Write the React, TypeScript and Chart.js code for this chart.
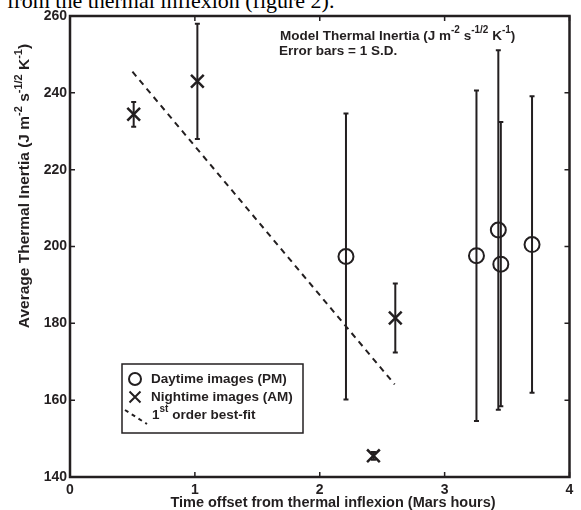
import React, { useEffect, useRef } from "react";
import { Chart, registerables } from "chart.js";
Chart.register(...registerables);

// ---- data ----
const xTicks = [0, 1, 2, 3, 4];
const yTicks = [140, 160, 180, 200, 220, 240, 260];

const dayX = [2.21, 3.255, 3.43, 3.45, 3.7];
const dayY = [197.4, 197.6, 204.3, 195.4, 200.5];
const dayErr = [37.2, 43.0, 46.8, 37.0, 38.6];

const nightX = [0.51, 1.02, 2.43, 2.605];
const nightY = [234.4, 243.0, 145.5, 181.4];
const nightErr = [3.2, 15.0, 1.0, 9.0];

const fitX = [0.5, 2.6];
const fitY = [245.5, 164.1];

const INK = "#231f20";
const FONT = '"Liberation Sans", Arial, Helvetica, sans-serif';

type Seg = [string, boolean?];

function segFont(size: number, sup?: boolean) {
  return `bold ${sup ? Math.round(size * 0.72) : size}px ${FONT}`;
}

function drawRich(
  ctx: CanvasRenderingContext2D,
  segs: Seg[],
  x: number,
  y: number,
  size: number,
  align: "left" | "center"
) {
  let total = 0;
  const widths = segs.map(([t, s]) => {
    ctx.font = segFont(size, s);
    const w = ctx.measureText(t).width;
    total += w;
    return w;
  });
  let cx = align === "center" ? x - total / 2 : x;
  ctx.textAlign = "left";
  ctx.textBaseline = "middle";
  segs.forEach(([t, s], i) => {
    ctx.font = segFont(size, s);
    ctx.fillText(t, cx, s ? y - size * 0.4 : y);
    cx += widths[i];
  });
}

const overlayPlugin = {
  id: "overlay",
  beforeDatasetsDraw(chart: any) {
    const ctx: CanvasRenderingContext2D = chart.ctx;
    const xs = chart.scales.x;
    const ys = chart.scales.y;
    ctx.save();
    ctx.strokeStyle = INK;
    ctx.lineWidth = 2;
    const bars = (X: number[], Y: number[], E: number[]) => {
      X.forEach((xv, i) => {
        const px = xs.getPixelForValue(xv);
        const top = ys.getPixelForValue(Y[i] + E[i]);
        const bot = ys.getPixelForValue(Y[i] - E[i]);
        ctx.beginPath();
        ctx.moveTo(px, top);
        ctx.lineTo(px, bot);
        ctx.moveTo(px - 2.5, top);
        ctx.lineTo(px + 2.5, top);
        ctx.moveTo(px - 2.5, bot);
        ctx.lineTo(px + 2.5, bot);
        ctx.stroke();
      });
    };
    bars(dayX, dayY, dayErr);
    bars(nightX, nightY, nightErr);
    ctx.restore();
  },
  afterDraw(chart: any) {
    const ctx: CanvasRenderingContext2D = chart.ctx;
    const a = chart.chartArea;
    const xs = chart.scales.x;
    const ys = chart.scales.y;
    ctx.save();
    ctx.strokeStyle = INK;
    ctx.fillStyle = INK;
    // inward ticks
    ctx.lineWidth = 1.5;
    ctx.beginPath();
    xTicks.forEach((v) => {
      const px = xs.getPixelForValue(v);
      ctx.moveTo(px, a.bottom);
      ctx.lineTo(px, a.bottom - 5);
      ctx.moveTo(px, a.top);
      ctx.lineTo(px, a.top + 5);
    });
    yTicks.forEach((v) => {
      const py = ys.getPixelForValue(v);
      ctx.moveTo(a.left, py);
      ctx.lineTo(a.left + 5, py);
      ctx.moveTo(a.right, py);
      ctx.lineTo(a.right - 5, py);
    });
    ctx.stroke();
    // box
    ctx.lineWidth = 2.5;
    ctx.strokeRect(a.left, a.top, a.right - a.left, a.bottom - a.top);

    // annotation
    drawRich(
      ctx,
      [["Model Thermal Inertia (J m"], ["-2", true], [" s"], ["-1/2", true], [" K"], ["-1", true], [")"]],
      280,
      36,
      13.5,
      "left"
    );
    drawRich(ctx, [["Error bars = 1 S.D."]], 279, 51, 13.5, "left");

    // legend
    ctx.lineWidth = 1.5;
    ctx.strokeRect(122, 364, 181, 69);
    ctx.lineWidth = 2;
    ctx.beginPath();
    ctx.arc(135, 379, 6, 0, Math.PI * 2);
    ctx.stroke();
    ctx.beginPath();
    ctx.moveTo(129.5, 391.5);
    ctx.lineTo(140.5, 402.5);
    ctx.moveTo(140.5, 391.5);
    ctx.lineTo(129.5, 402.5);
    ctx.stroke();
    ctx.setLineDash([4, 4]);
    ctx.beginPath();
    ctx.moveTo(125, 410);
    ctx.lineTo(147, 424);
    ctx.stroke();
    ctx.setLineDash([]);
    drawRich(ctx, [["Daytime images (PM)"]], 151, 379, 13.5, "left");
    drawRich(ctx, [["Nightime images (AM)"]], 151, 397, 13.5, "left");
    drawRich(ctx, [["1"], ["st", true], [" order best-fit"]], 152, 415, 13.5, "left");

    // axis titles
    drawRich(ctx, [["Time offset from thermal inflexion (Mars hours)"]], 333, 503, 14.5, "center");
    ctx.save();
    ctx.translate(25, 186);
    ctx.rotate(-Math.PI / 2);
    drawRich(
      ctx,
      [["Average Thermal Inertia (J m"], ["-2", true], [" s"], ["-1/2", true], [" K"], ["-1", true], [")"]],
      0,
      0,
      15.5,
      "center"
    );
    ctx.restore();
    ctx.restore();
  },
};

export default function App() {
  const ref = useRef<HTMLCanvasElement | null>(null);
  useEffect(() => {
    if (!ref.current) return;
    const chart = new Chart(ref.current, {
      type: "scatter",
      data: {
        datasets: [
          {
            label: "Daytime images (PM)",
            data: dayX.map((x, i) => ({ x, y: dayY[i] })),
            pointStyle: "circle",
            pointRadius: 7.5,
            pointBorderWidth: 2,
            borderColor: INK,
            backgroundColor: "rgba(0,0,0,0)",
          },
          {
            label: "Nightime images (AM)",
            data: nightX.map((x, i) => ({ x, y: nightY[i] })),
            pointStyle: "crossRot",
            pointRadius: 9,
            pointBorderWidth: 2.5,
            borderColor: INK,
            backgroundColor: INK,
          },
          {
            label: "1st order best-fit",
            data: fitX.map((x, i) => ({ x, y: fitY[i] })),
            showLine: true,
            pointRadius: 0,
            borderColor: INK,
            borderWidth: 2,
            borderDash: [6, 5],
          },
        ],
      },
      options: {
        responsive: false,
        animation: false,
        devicePixelRatio: 1,
        layout: { padding: { left: 0, right: 6, top: 16, bottom: 0 } },
        plugins: { legend: { display: false }, tooltip: { enabled: false } },
        scales: {
          x: {
            type: "linear",
            min: xTicks[0],
            max: xTicks[xTicks.length - 1],
            afterFit: (s: any) => {
              s.height = 33;
            },
            grid: { display: false, drawTicks: false },
            border: { display: false },
            ticks: {
              stepSize: 1,
              autoSkip: false,
              autoSkipPadding: 0,
              maxRotation: 0,
              minRotation: 0,
              padding: 5,
              color: INK,
              font: { family: FONT, size: 14, weight: "bold" },
            },
          },
          y: {
            type: "linear",
            min: yTicks[0],
            max: yTicks[yTicks.length - 1],
            afterFit: (s: any) => {
              s.width = 70;
            },
            grid: { display: false, drawTicks: false },
            border: { display: false },
            ticks: {
              stepSize: 20,
              autoSkip: false,
              padding: 3,
              color: INK,
              font: { family: FONT, size: 14, weight: "bold" },
            },
          },
        },
      },
      plugins: [overlayPlugin],
    } as any);
    return () => chart.destroy();
  }, []);

  return (
    <div
      style={{
        position: "absolute",
        left: 0,
        top: 0,
        width: 581,
        height: 510,
        overflow: "hidden",
        background: "#fff",
      }}
    >
      <div
        style={{
          position: "absolute",
          left: 7,
          top: -10,
          fontFamily: '"Liberation Serif", "Times New Roman", serif',
          fontSize: 22,
          lineHeight: "22px",
          color: "#000",
          whiteSpace: "nowrap",
        }}
      >
        from the thermal inflexion (figure 2).
      </div>
      <canvas
        ref={ref}
        width={581}
        height={510}
        style={{ position: "absolute", left: 0, top: 0, width: 581, height: 510 }}
      />
    </div>
  );
}
